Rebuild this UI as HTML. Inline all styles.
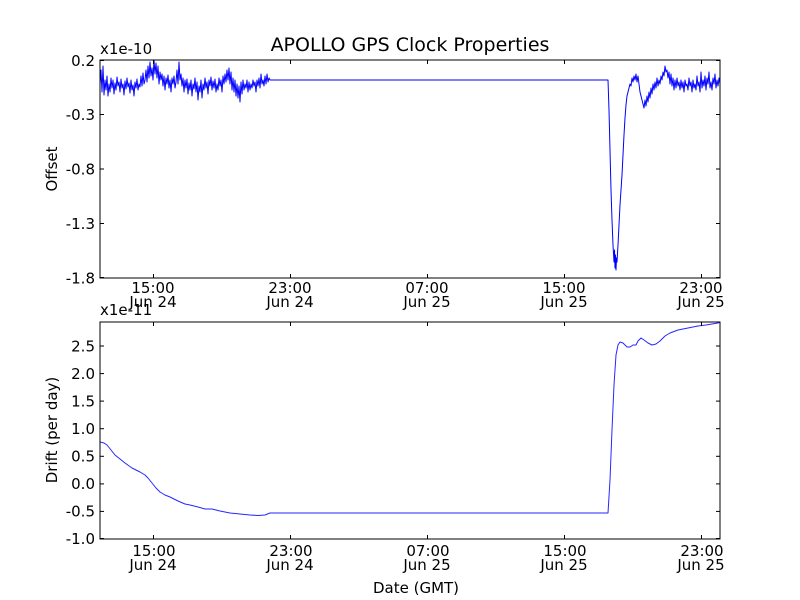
<!DOCTYPE html>
<html>
<head>
<meta charset="utf-8">
<style>
html,body{margin:0;padding:0;background:#fff;}
svg{display:block;}
text{font-family:"DejaVu Sans","Liberation Sans",sans-serif;fill:#000;}
.t{font-size:15px;}
</style>
</head>
<body>
<svg width="800" height="600" viewBox="0 0 800 600" xmlns="http://www.w3.org/2000/svg">
<rect width="800" height="600" fill="#fff"/>

<!-- Title -->
<text x="410" y="51" font-size="19" text-anchor="middle">APOLLO GPS Clock Properties</text>

<!-- ===== Top panel ===== -->
<clipPath id="c1"><rect x="100" y="60" width="620" height="218"/></clipPath>
<g clip-path="url(#c1)" fill="none" stroke="#0000ff" stroke-width="1" stroke-linejoin="round">
<polyline points="100,85 101,70 102,92 103,66 104,95 105,80 106,90 107,76 108,96 109,84 110,92 111,78 112,88 113,80 114,94 115,83 116,90 117,77 118,86 119,82 120,92 121,79 122,88 123,84 124,95 125,81 126,89 127,78 128,87 129,83 130,93 131,80 132,90 133,85 134,96 135,82 136,88 137,79 138,90 139,84 140,87 141,76 142,86 143,73 144,84 145,80 146,70 147,82 148,66 149,78 150,62 151,76 152,68 153,80 154,60 155,74 156,63 157,78 158,66 159,84 160,72 161,80 162,74 163,86 164,76 165,90 166,78 167,84 168,75 169,88 170,80 171,92 172,78 173,84 174,76 175,88 176,82 177,70 178,84 179,62 180,80 181,74 182,86 183,78 184,92 185,80 186,88 187,79 188,94 189,83 190,90 191,80 192,96 193,84 194,89 195,78 196,92 197,82 198,100 199,86 200,92 201,80 202,98 203,84 204,90 205,78 206,88 207,82 208,94 209,80 210,86 211,77 212,90 213,81 214,88 215,79 216,92 217,84 218,90 219,78 220,86 221,80 222,92 223,76 224,84 225,74 226,82 227,70 228,80 229,68 230,84 231,72 232,90 233,78 234,92 235,80 236,96 237,84 238,98 239,86 240,102 241,82 242,94 243,80 244,90 245,84 246,88 247,80 248,92 249,82 250,90 251,84 252,88 253,80 254,86 255,82 256,92 257,80 258,86 259,78 260,88 261,74 262,84 263,80 264,86 265,76 266,84 267,74 268,82 269,78 270,80 608,80 609,110 610,150 611,190 612,220 613,245 614,262 614.5,250 615,268 615.5,255 616,270 616.5,258 617,262 618,245 619,225 620,205 621,190 622,175 623,155 624,135 625,118 626,105 627,96 628,92 629,88 630,84 631,86 632,78 633,82 634,76 635,80 636,74 637,82 638,76 639,84 640,92 641,96 642,100 643,104 644,108 645,100 646,106 647,96 648,102 649,92 650,98 651,88 652,94 653,84 654,90 655,82 656,88 657,78 658,86 659,80 660,84 661,76 662,80 663,72 664,76 665,66 666,72 667,70 668,78 669,72 670,84 671,74 672,86 673,78 674,90 675,80 676,88 677,78 678,86 679,82 680,90 681,80 682,88 683,82 684,92 685,80 686,86 687,84 688,90 689,78 690,86 691,82 692,92 693,80 694,88 695,84 696,90 697,76 698,86 699,82 700,92 701,72 702,88 703,80 704,86 705,76 706,90 707,78 708,84 709,72 710,88 711,82 712,90 713,78 714,84 715,74 716,88 717,80 718,86 719,78 720,84"/>
</g>
<rect x="100" y="60" width="620" height="218" fill="none" stroke="#000" stroke-width="1"/>
<g stroke="#000" stroke-width="1">
<!-- y ticks -->
<line x1="100" y1="60.5" x2="104" y2="60.5"/><line x1="716" y1="60.5" x2="720" y2="60.5"/>
<line x1="100" y1="114.5" x2="104" y2="114.5"/><line x1="716" y1="114.5" x2="720" y2="114.5"/>
<line x1="100" y1="169" x2="104" y2="169"/><line x1="716" y1="169" x2="720" y2="169"/>
<line x1="100" y1="223.5" x2="104" y2="223.5"/><line x1="716" y1="223.5" x2="720" y2="223.5"/>
<line x1="100" y1="277.5" x2="104" y2="277.5"/><line x1="716" y1="277.5" x2="720" y2="277.5"/>
<!-- x ticks -->
<line x1="153.5" y1="60" x2="153.5" y2="64"/><line x1="153.5" y1="274" x2="153.5" y2="278"/>
<line x1="290.5" y1="60" x2="290.5" y2="64"/><line x1="290.5" y1="274" x2="290.5" y2="278"/>
<line x1="427.5" y1="60" x2="427.5" y2="64"/><line x1="427.5" y1="274" x2="427.5" y2="278"/>
<line x1="564.5" y1="60" x2="564.5" y2="64"/><line x1="564.5" y1="274" x2="564.5" y2="278"/>
<line x1="701.5" y1="60" x2="701.5" y2="64"/><line x1="701.5" y1="274" x2="701.5" y2="278"/>
</g>
<g class="t" text-anchor="end">
<text x="95" y="66">0.2</text>
<text x="95" y="120">-0.3</text>
<text x="95" y="174.5">-0.8</text>
<text x="95" y="229">-1.3</text>
<text x="95" y="283.5">-1.8</text>
</g>
<g class="t" text-anchor="middle">
<text x="153" y="293">15:00</text><text x="153" y="307">Jun 24</text>
<text x="290" y="293">23:00</text><text x="290" y="307">Jun 24</text>
<text x="427" y="293">07:00</text><text x="427" y="307">Jun 25</text>
<text x="564" y="293">15:00</text><text x="564" y="307">Jun 25</text>
<text x="701" y="293">23:00</text><text x="701" y="307">Jun 25</text>
</g>
<text class="t" x="100" y="54">x1e-10</text>
<text class="t" x="57" y="169" text-anchor="middle" transform="rotate(-90 57 169)">Offset</text>

<!-- ===== Bottom panel ===== -->
<clipPath id="c2"><rect x="100" y="322" width="620" height="217"/></clipPath>
<g clip-path="url(#c2)" fill="none" stroke="#0000ff" stroke-width="1" stroke-opacity="0.85" stroke-linejoin="round">
<polyline points="100,442 104,443 107,445 111,450 115,455 120,459 125,463 132,468 140,472 145,475 148,478 152,483 156,488 160,492 165,495 170,497 178,501 185,504 190,505 198,507 205,509 212,509 220,511 230,513 240,514 250,515 258,515.5 265,515 270,513 608,513 610,480 612,430 614,385 616,355 618,345 620,342 623,343 627,347 630,347 633,345 636,345 638,341 641,338 644,340 648,343 652,345 656,344 660,341 665,336 670,333 678,330 688,328 698,326 706,325 712,324 718,323 720,322"/>
</g>
<rect x="100" y="322" width="620" height="217" fill="none" stroke="#000" stroke-width="1"/>
<g stroke="#000" stroke-width="1">
<line x1="100" y1="538.5" x2="104" y2="538.5"/><line x1="716" y1="538.5" x2="720" y2="538.5"/>
<line x1="100" y1="511.4" x2="104" y2="511.4"/><line x1="716" y1="511.4" x2="720" y2="511.4"/>
<line x1="100" y1="483.9" x2="104" y2="483.9"/><line x1="716" y1="483.9" x2="720" y2="483.9"/>
<line x1="100" y1="456.3" x2="104" y2="456.3"/><line x1="716" y1="456.3" x2="720" y2="456.3"/>
<line x1="100" y1="428.7" x2="104" y2="428.7"/><line x1="716" y1="428.7" x2="720" y2="428.7"/>
<line x1="100" y1="401.1" x2="104" y2="401.1"/><line x1="716" y1="401.1" x2="720" y2="401.1"/>
<line x1="100" y1="373.6" x2="104" y2="373.6"/><line x1="716" y1="373.6" x2="720" y2="373.6"/>
<line x1="100" y1="346" x2="104" y2="346"/><line x1="716" y1="346" x2="720" y2="346"/>
<line x1="153.5" y1="322" x2="153.5" y2="326"/><line x1="153.5" y1="535" x2="153.5" y2="539"/>
<line x1="290.5" y1="322" x2="290.5" y2="326"/><line x1="290.5" y1="535" x2="290.5" y2="539"/>
<line x1="427.5" y1="322" x2="427.5" y2="326"/><line x1="427.5" y1="535" x2="427.5" y2="539"/>
<line x1="564.5" y1="322" x2="564.5" y2="326"/><line x1="564.5" y1="535" x2="564.5" y2="539"/>
<line x1="701.5" y1="322" x2="701.5" y2="326"/><line x1="701.5" y1="535" x2="701.5" y2="539"/>
</g>
<g class="t" text-anchor="end">
<text x="95" y="544">-1.0</text>
<text x="95" y="516.5">-0.5</text>
<text x="95" y="489">0.0</text>
<text x="95" y="461.5">0.5</text>
<text x="95" y="434">1.0</text>
<text x="95" y="406.5">1.5</text>
<text x="95" y="379">2.0</text>
<text x="95" y="351.5">2.5</text>
</g>
<g class="t" text-anchor="middle">
<text x="154" y="556">15:00</text><text x="153" y="570">Jun 24</text>
<text x="291" y="556">23:00</text><text x="290" y="570">Jun 24</text>
<text x="428" y="556">07:00</text><text x="427" y="570">Jun 25</text>
<text x="565" y="556">15:00</text><text x="564" y="570">Jun 25</text>
<text x="702" y="556">23:00</text><text x="701" y="570">Jun 25</text>
</g>
<text class="t" x="100" y="315">x1e-11</text>
<text class="t" x="57" y="430" text-anchor="middle" transform="rotate(-90 57 430)">Drift (per day)</text>
<text class="t" x="416" y="593" text-anchor="middle">Date (GMT)</text>
</svg>
</body>
</html>
